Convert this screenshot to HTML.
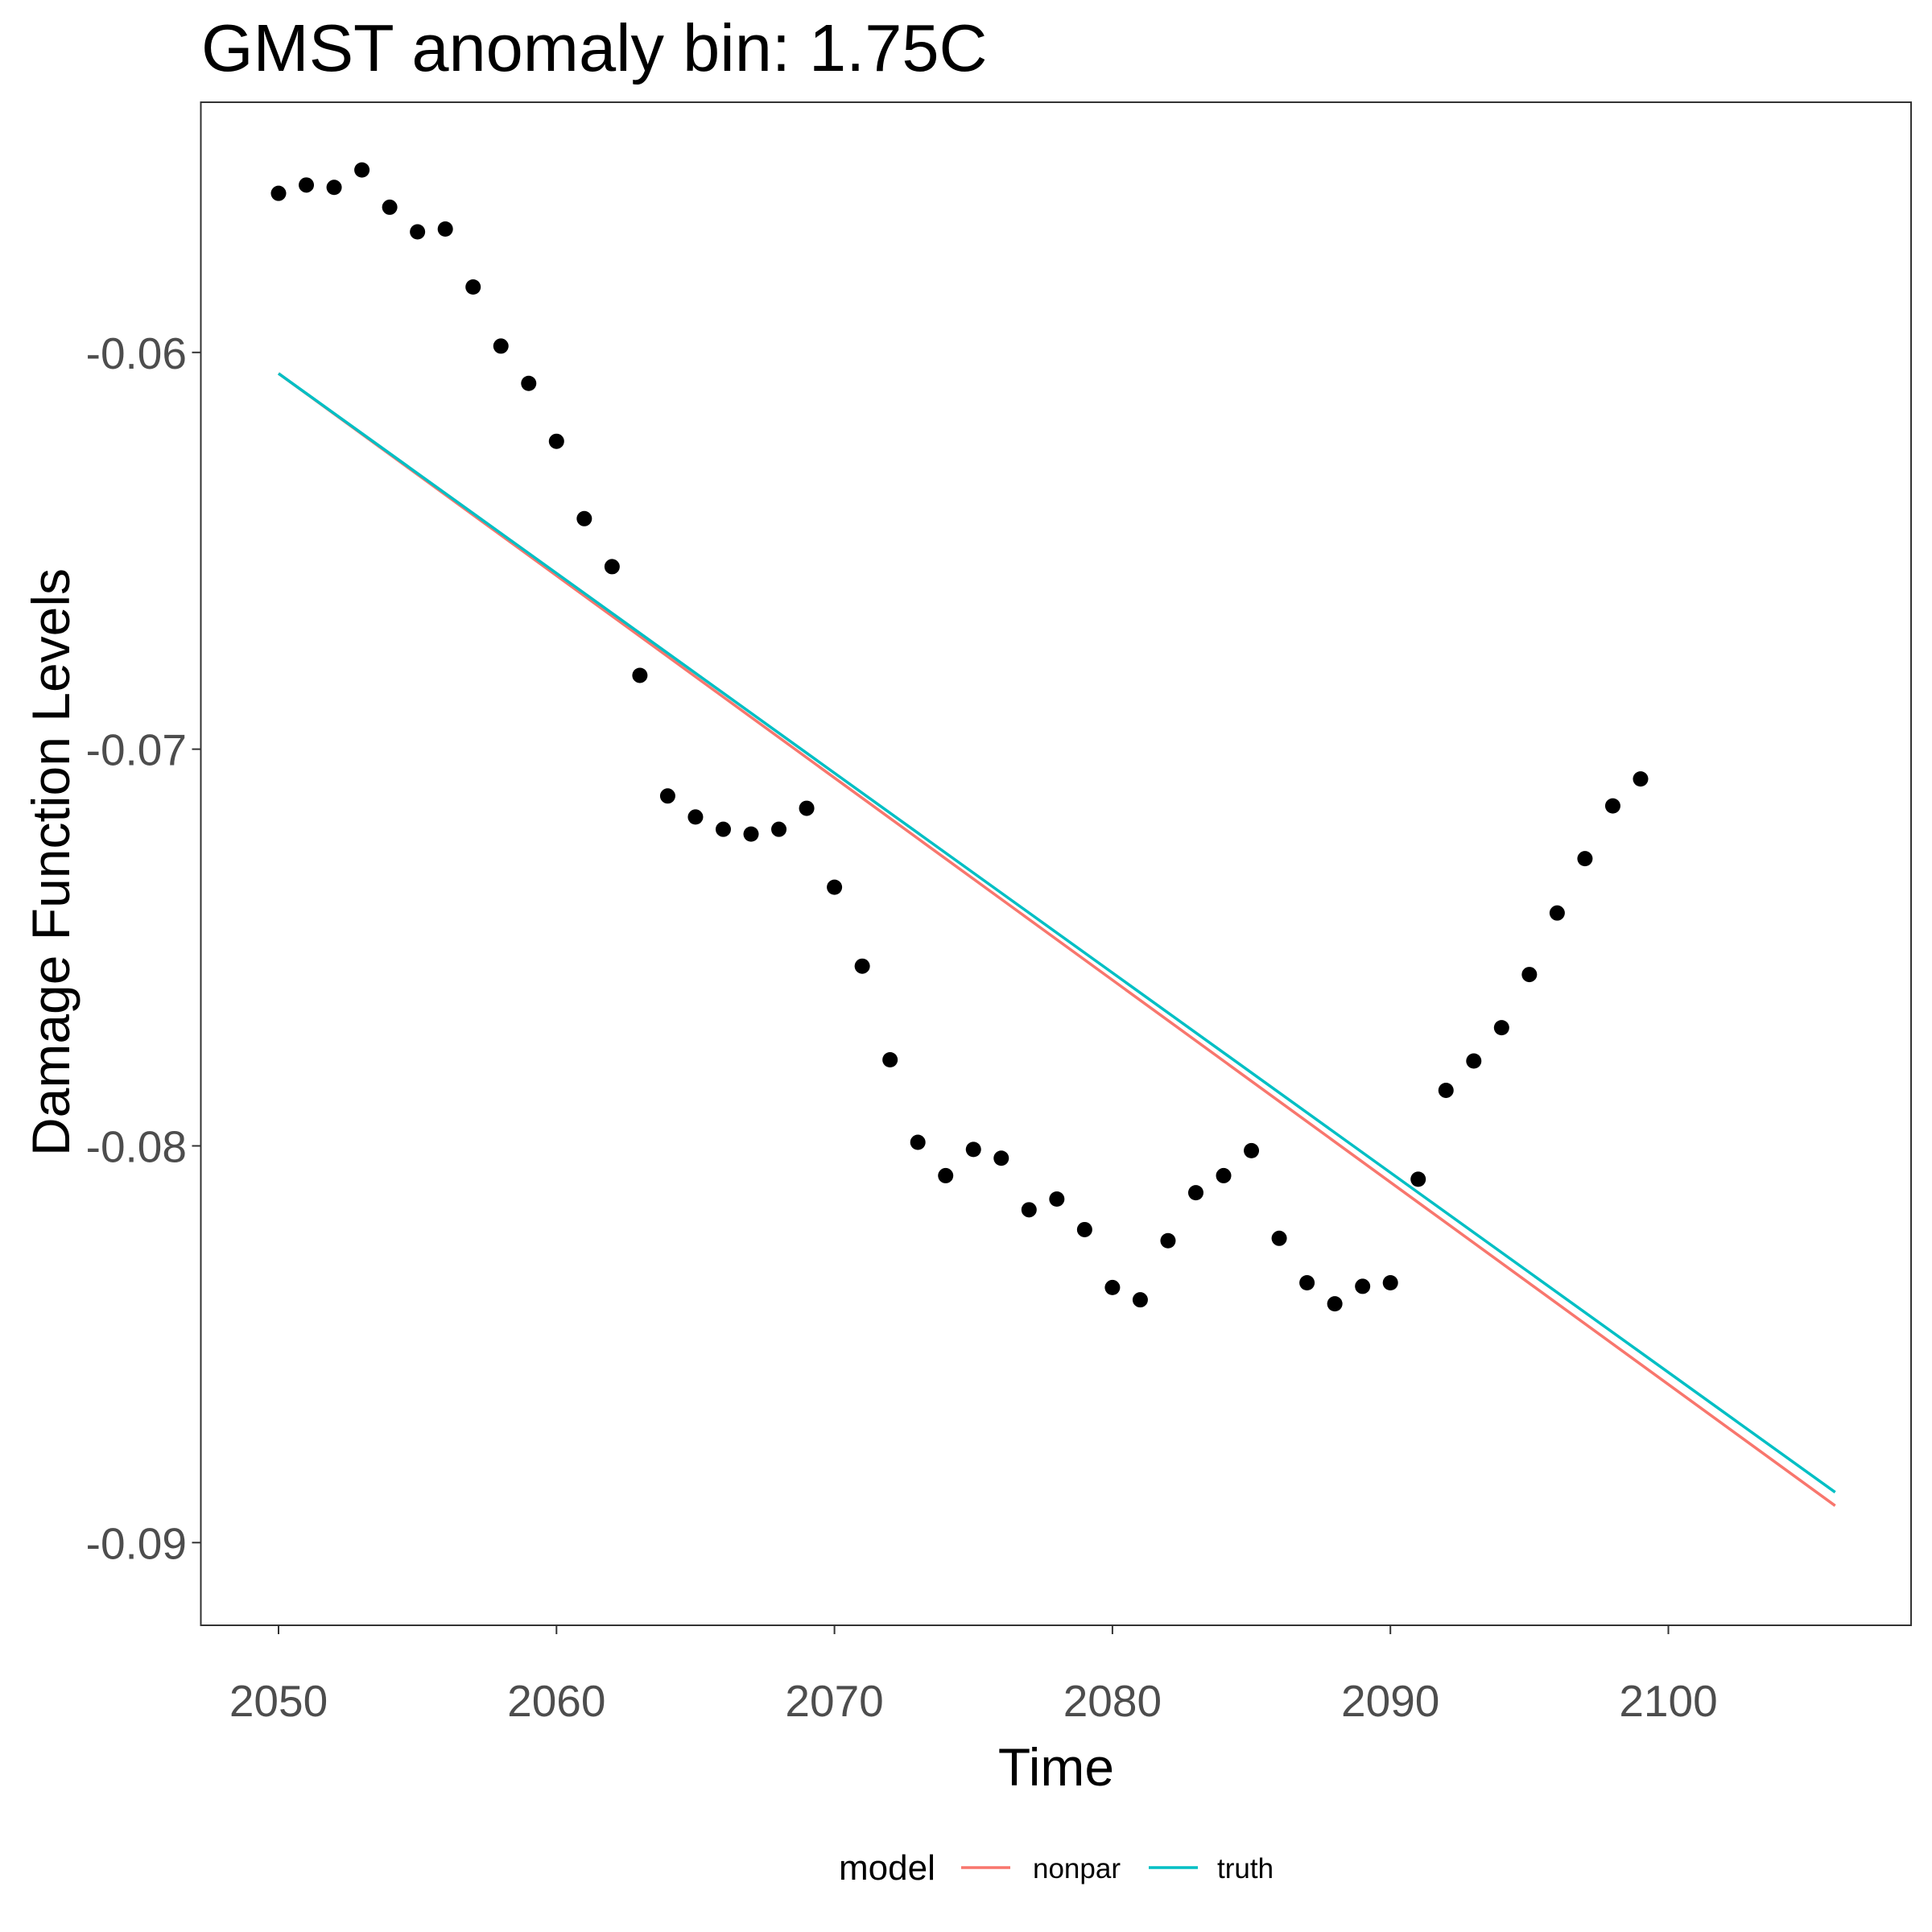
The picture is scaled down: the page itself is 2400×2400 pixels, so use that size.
<!DOCTYPE html>
<html><head><meta charset="utf-8"><style>
html,body{margin:0;padding:0;background:#fff;}
svg{display:block;font-family:"Liberation Sans",Arial,sans-serif;}
</style></head><body>
<svg id="chart" width="2400" height="2400" viewBox="0 0 2400 2400" xmlns="http://www.w3.org/2000/svg">
<rect width="2400" height="2400" fill="#fff"/>
<text x="250" y="88" font-size="83" fill="#000">GMST anomaly bin: 1.75C</text>
<g id="plot"></g>
<text x="1312" y="2218" font-size="66" text-anchor="middle" fill="#000">Time</text>
<text transform="translate(86,1071) rotate(-90)" font-size="66" text-anchor="middle" fill="#000">Damage Function Levels</text>
<g>
<text x="1042" y="2335" font-size="44" fill="#000">model</text>
<g>
<line x1="1194" y1="2320" x2="1255" y2="2320" stroke="#F8766D" stroke-width="3.5"/>
<text x="1283" y="2333" font-size="35" fill="#000">nonpar</text></g>
<g>
<line x1="1427" y1="2320" x2="1488" y2="2320" stroke="#00BFC4" stroke-width="3.5"/>
<text x="1512" y="2333" font-size="35" fill="#000">truth</text></g>
</g>
</svg>
<script>
const years = [];
for (let y = 2050; y <= 2099; y++) years.push(y);
const pointValues = [-0.05599,-0.05578,-0.05584,-0.05540,-0.05634,-0.05696,-0.05689,-0.05835,-0.05984,-0.06078,
-0.06224,-0.06419,-0.06540,-0.06814,-0.07118,-0.07171,-0.07202,-0.07214,-0.07202,-0.07149,
-0.07348,-0.07547,-0.07783,-0.07991,-0.08075,-0.08009,-0.08031,-0.08161,-0.08134,-0.08211,
-0.08357,-0.08388,-0.08239,-0.08118,-0.08075,-0.08012,-0.08233,-0.08345,-0.08398,-0.08354,
-0.08345,-0.08084,-0.07860,-0.07786,-0.07702,-0.07568,-0.07413,-0.07276,-0.07143,-0.07075];
const lineYears = [2050, 2106];
const nonparValues = [-0.06053, -0.08907];
const truthValues = [-0.06053, -0.08873];
const xTicks = [2050, 2060, 2070, 2080, 2090, 2100];
const yTicks = [-0.06, -0.07, -0.08, -0.09];
const yTickLabels = ["-0.06", "-0.07", "-0.08", "-0.09"];

const P = {l: 249.5, r: 2374, t: 127, b: 2019};
const sx = v => 346 + (v - 2050) * (2072.5 - 346) / 50;
const sy = v => 437.8 + (-0.06 - v) * (1916.3 - 437.8) / 0.03;
const NS = "http://www.w3.org/2000/svg";
const g = document.getElementById('plot');
function mk(tag, attrs, parent) {
  const e = document.createElementNS(NS, tag);
  for (const k in attrs) e.setAttribute(k, attrs[k]);
  (parent || g).appendChild(e);
  return e;
}
xTicks.forEach(t => {
  const l = mk('line', {x1: sx(t), x2: sx(t), y1: P.b, y2: P.b + 11, stroke: '#333', 'stroke-width': 2});
  
  
  const tx = mk('text', {x: sx(t), y: 2132, 'font-size': 55, 'text-anchor': 'middle', fill: '#4d4d4d'});
  tx.textContent = t;
  
  
});
yTicks.forEach((t, i) => {
  const l = mk('line', {x1: P.l - 11, x2: P.l, y1: sy(t), y2: sy(t), stroke: '#333', 'stroke-width': 2});
  
  
  const tx = mk('text', {x: 232, y: sy(t) + 20, 'font-size': 55, 'text-anchor': 'end', fill: '#4d4d4d'});
  tx.textContent = yTickLabels[i];
  
  
});
function drawLine(vals, color, name) {
  const d = lineYears.map((y, i) => (i ? 'L' : 'M') + sx(y) + ',' + sy(vals[i])).join(' ');
  const p = mk('path', {d: d, stroke: color, 'stroke-width': 3.5, fill: 'none'});
  
  
}
drawLine(nonparValues, '#F8766D', 'nonpar-line');
drawLine(truthValues, '#00BFC4', 'truth-line');
years.forEach((y, i) => {
  const c = mk('circle', {cx: sx(y), cy: sy(pointValues[i]), r: 9.5, fill: '#000'});
  
  
});
const b = mk('rect', {x: P.l, y: P.t, width: P.r - P.l, height: P.b - P.t, fill: 'none', stroke: '#333', 'stroke-width': 2});


</script>
</body></html>
